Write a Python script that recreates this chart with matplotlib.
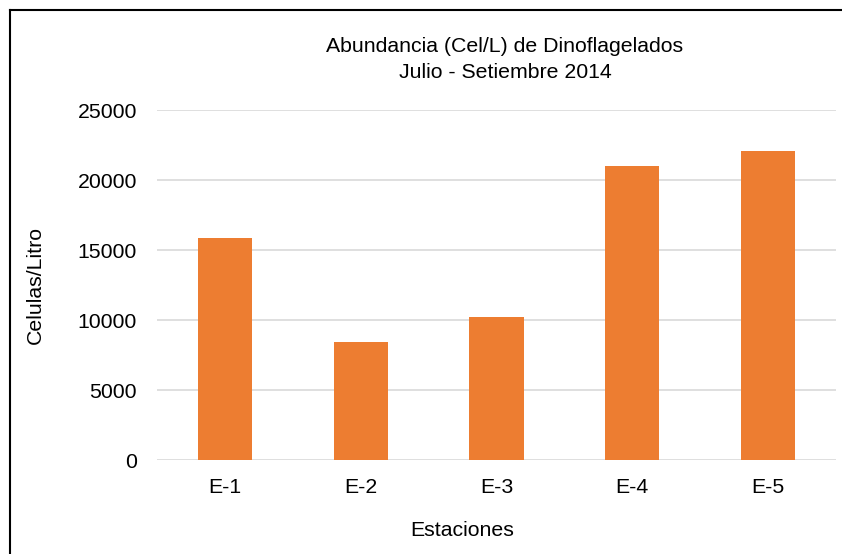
import matplotlib.pyplot as plt
from matplotlib.lines import Line2D

plt.rcParams['font.family'] = ['Liberation Sans', 'DejaVu Sans']

# data
estaciones = ['E-1', 'E-2', 'E-3', 'E-4', 'E-5']
celulas = [15850, 8430, 10210, 21000, 22100]
yticks = [0, 5000, 10000, 15000, 20000, 25000]

fig = plt.figure(figsize=(8.42, 5.54), dpi=100)
ax = fig.add_axes([157/842, 1-460/554, (836-157)/842, (460-110)/554])

ax.bar(range(len(estaciones)), celulas, width=0.4, color='#ED7D31', zorder=3)
ax.set_xlim(-0.5, len(estaciones)-0.5)
ax.set_ylim(0, 25000)
ax.set_yticks(yticks)
ax.set_xticks(range(len(estaciones)))
ax.set_xticklabels(estaciones)
ax.yaxis.grid(True, color='#d9d9d9', lw=1.2, zorder=0)
ax.set_axisbelow(True)
for s in ax.spines.values():
    s.set_visible(False)
ax.tick_params(length=0, labelsize=15.3, colors='black')
ax.tick_params(axis='y', pad=14.5)
ax.tick_params(axis='x', pad=13)

fs = 15.3
fig.text(505/842, 1-47/554, 'Abundancia (Cel/L) de Dinoflagelados', ha='center', va='center', fontsize=fs)
fig.text(505/842, 1-73/554, 'Julio - Setiembre 2014', ha='center', va='center', fontsize=fs)
fig.text(462/842, 1-531/554, 'Estaciones', ha='center', va='center', fontsize=fs)
fig.text(35/842, 1-285/554, 'Celulas/Litro', ha='center', va='center', rotation=90, fontsize=fs)

# frame lines (left and top)
fig.add_artist(Line2D([10/842, 10/842], [0, 1-10/554], color='black', lw=1.5, transform=fig.transFigure))
fig.add_artist(Line2D([10/842, 1], [1-10/554, 1-10/554], color='black', lw=1.5, transform=fig.transFigure))

plt.savefig('out.png', dpi=100)
